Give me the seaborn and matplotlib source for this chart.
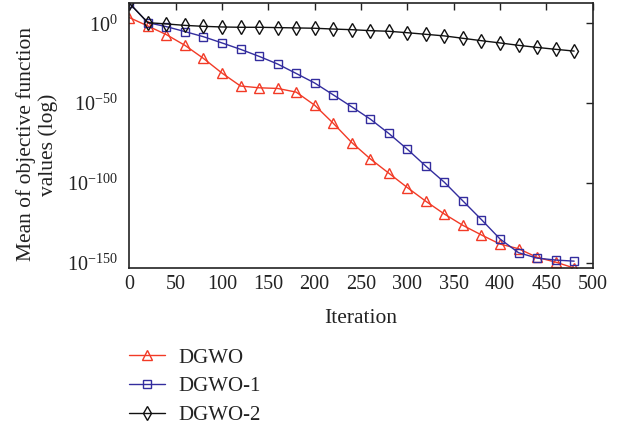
import numpy as np
import pandas as pd
import matplotlib
matplotlib.use("Agg")
import matplotlib.pyplot as plt
import seaborn as sns

iterations = [0, 20, 40, 60, 80, 100, 120, 140, 160, 180, 200, 220, 240, 260, 280,
              300, 320, 340, 360, 380, 400, 420, 440, 460, 480]
# log10 of mean objective function values
dgwo_log = [3.6, -1.7, -7.1, -13.8, -22.0, -31.2, -39.3, -40.4, -40.8, -43.1, -51.3,
            -62.6, -74.7, -84.9, -93.9, -102.9, -111.5, -119.5, -126.6, -132.6,
            -138.3, -141.2, -146.6, -149.6, -153.3]
dgwo1_log = [12.6, 0.4, -2.1, -5.2, -8.4, -12.3, -16.3, -20.7, -25.5, -31.4, -37.4,
             -44.8, -52.3, -60.0, -69.0, -78.9, -89.5, -99.6, -111.3, -123.0,
             -135.1, -143.7, -147.1, -148.3, -149.0]
dgwo2_log = [12.6, 0.4, -0.4, -1.3, -1.9, -2.3, -2.5, -2.5, -2.7, -2.9, -3.1, -3.6,
             -4.0, -4.6, -5.0, -5.9, -6.9, -7.9, -9.4, -10.9, -12.3, -13.8, -15.1,
             -16.3, -17.4]
series_names = ["DGWO", "DGWO-1", "DGWO-2"]
xticks = [0, 50, 100, 150, 200, 250, 300, 350, 400, 450, 500]
ytick_exps = [0, -50, -100, -150]

sns.set_theme(style="white")
plt.rcParams["font.family"] = ["Liberation Serif", "DejaVu Serif"]
plt.rcParams["mathtext.fontset"] = "custom"
plt.rcParams["mathtext.rm"] = "Liberation Serif"
plt.rcParams["mathtext.it"] = "Liberation Serif:italic"

fig = plt.figure(figsize=(6.19, 4.36), dpi=100)
ax = fig.add_axes([0.2089, 0.386, 0.7486, 0.6078])

styles = {
    "DGWO": dict(color="#f23a26", marker="^", ms=7),
    "DGWO-1": dict(color="#332d9e", marker="s", ms=5.5),
    "DGWO-2": dict(color="#111111", marker="d", ms=7.5),
}
datas = [dgwo_log, dgwo1_log, dgwo2_log]
for name, d in zip(series_names, datas):
    st = styles[name]
    df = pd.DataFrame({"Iteration": iterations, "value": np.power(10.0, d)})
    sns.lineplot(data=df, x="Iteration", y="value", ax=ax, color=st["color"],
                 marker=st["marker"], markersize=st["ms"], markerfacecolor="none",
                 markeredgecolor=st["color"], markeredgewidth=1.0, linewidth=1.0,
                 label=name)

ax.set_yscale("log")
ax.set_xlim(0, 500)
ax.set_ylim(10.0 ** -153.1, 10.0 ** 12.9)
ax.set_xticks(xticks)
ax.set_xticklabels([str(t) for t in xticks])
ax.set_yticks([10.0 ** e for e in ytick_exps])
ax.set_yticklabels([r"$10^{%d}$" % e if e == 0 else r"$10^{-%d}$" % (-e) for e in ytick_exps])
ax.yaxis.set_minor_locator(matplotlib.ticker.NullLocator())
ax.tick_params(axis="both", which="major", direction="in", length=5, width=1,
               top=True, right=True, labelsize=14.5, colors="#222222")
ax.tick_params(axis="y", pad=8)
ax.tick_params(axis="x", pad=5)
for sp in ax.spines.values():
    sp.set_color("#222222")
    sp.set_linewidth(1.2)
ax.set_xlabel("Iteration", fontsize=15.5, color="#222222", labelpad=11)
ax.set_ylabel("Mean of objective function\nvalues (log)", fontsize=15.5,
              color="#222222", linespacing=1.2)
ax.yaxis.set_label_coords(-0.153, 0.465)

handles, labels = ax.get_legend_handles_labels()
ax.get_legend().remove()
fig.legend(handles, labels, loc="upper left", bbox_to_anchor=(0.2084, 0.202),
           frameon=False, fontsize=15, handlelength=1.75, handletextpad=0.6,
           labelspacing=0.45, borderpad=0, borderaxespad=0, labelcolor="#222222")

fig.savefig("out.png", dpi=100)
